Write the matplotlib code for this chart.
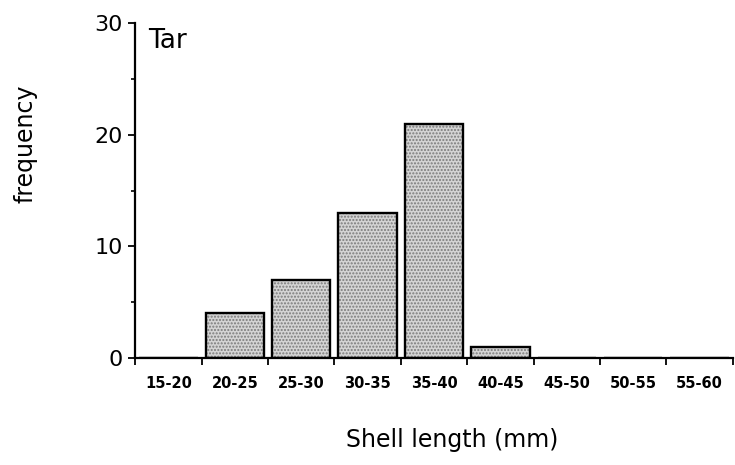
import numpy as np
import matplotlib.pyplot as plt
from matplotlib.ticker import FixedLocator

plt.rcParams['font.family'] = ['DejaVu Sans']

bins = ["15-20", "20-25", "25-30", "30-35", "35-40", "40-45", "45-50", "50-55", "55-60"]
counts = [0, 4, 7, 13, 21, 1, 0, 0, 0]

fig = plt.figure(figsize=(7.35, 4.65), dpi=100)
ax = fig.add_axes([0.184, 0.230, 0.813, 0.7205])

x = np.arange(len(bins))
# stippled fill first, then the outline on top
ax.bar(x, counts, width=0.88, color='#d4d4d4', edgecolor='#7a7a7a',
       hatch='.....', linewidth=0, zorder=2)
ax.bar(x, counts, width=0.88, color='none', edgecolor='black',
       linewidth=1.7, zorder=3)

ax.set_xlim(-0.5, len(bins) - 0.5)
ax.set_ylim(0, 30)

for s in ['top', 'right']:
    ax.spines[s].set_visible(False)
ax.spines['left'].set_linewidth(1.6)
ax.spines['bottom'].set_linewidth(1.6)

# x: tick marks at bin edges, labels at bin centres
ax.xaxis.set_major_locator(FixedLocator(np.arange(len(bins) + 1) - 0.5))
ax.xaxis.set_minor_locator(FixedLocator(x))
ax.set_xticklabels([])
ax.set_xticklabels(bins, minor=True)
ax.tick_params(axis='x', which='major', length=5, width=1.3, direction='out')
ax.tick_params(axis='x', which='minor', length=0, pad=13, labelsize=10.5)
for t in ax.get_xticklabels(minor=True):
    t.set_fontweight('bold')

ax.set_yticks([0, 10, 20, 30])
ax.yaxis.set_minor_locator(FixedLocator([5, 15, 25]))
ax.tick_params(axis='y', which='major', length=5, width=1.3, labelsize=16, pad=4)
ax.tick_params(axis='y', which='minor', length=3, width=1.2)

ax.set_ylabel("frequency", fontsize=17, va='center')
ax.yaxis.set_label_coords(-0.184, 0.64)
ax.set_xlabel("Shell length (mm)", fontsize=17, va='center')
ax.xaxis.set_label_coords(0.53, -0.245)
ax.text(0.022, 0.985, "Tar", transform=ax.transAxes, fontsize=19, va='top', ha='left')

fig.savefig("out.png", dpi=100)
